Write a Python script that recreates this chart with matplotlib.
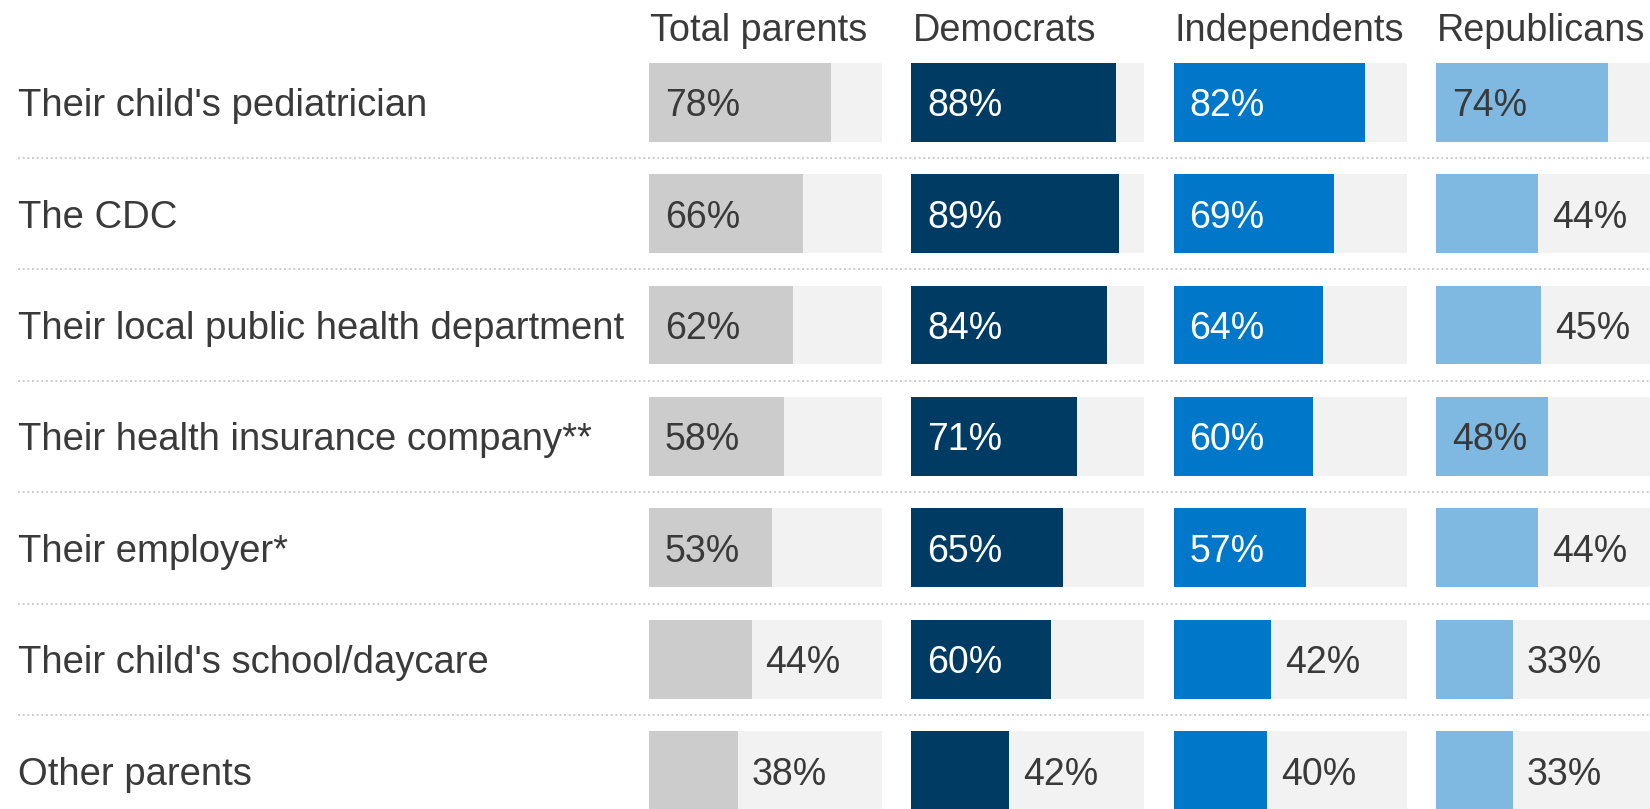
import matplotlib
matplotlib.use("Agg")
import matplotlib.pyplot as plt

plt.rcParams["font.family"] = ["Liberation Sans", "DejaVu Sans"]

sources = [
    "Their child's pediatrician",
    "The CDC",
    "Their local public health department",
    "Their health insurance company**",
    "Their employer*",
    "Their child's school/daycare",
    "Other parents",
]
groups = ["Total parents", "Democrats", "Independents", "Republicans"]
total = [78, 66, 62, 58, 53, 44, 38]
democrats = [88, 89, 84, 71, 65, 60, 42]
independents = [82, 69, 64, 60, 57, 42, 40]
republicans = [74, 44, 45, 48, 44, 33, 33]

series = [total, democrats, independents, republicans]
colors = ["#cccccc", "#003b63", "#0077c8", "#7fb8e1"]
text_colors = ["#3a3a3a", "white", "white", "#3a3a3a"]
track = "#f2f2f2"
ink = "#3a3a3a"

W, H = 1650, 809
fig = plt.figure(figsize=(W / 100, H / 100), dpi=100)

# vertical frame in pixels: first row centre and row pitch
row0, pitch = 102, 111.5
n = len(sources)
top_px = row0 - pitch / 2
bot_px = top_px + pitch * n
ax_bottom = 1 - bot_px / H
ax_height = (bot_px - top_px) / H

# background axes for row labels and dotted separators
bg = fig.add_axes([0, ax_bottom, 1, ax_height])
bg.set_xlim(0, 1)
bg.set_ylim(n - 0.5, -0.5)
bg.axis("off")
for i, name in enumerate(sources):
    bg.text(18 / W, i, name, fontsize=27.5, color=ink,
            va="center_baseline", ha="left")
for i in range(n - 1):
    bg.axhline(i + 0.5, xmin=18 / W, xmax=1, color="#cccccc", lw=1.4,
               linestyle=(0, (1, 1.4)))

panel_x0, panel_step, panel_w = 649, 262.3, 233
bar_h = 79 / pitch

for k, (label, vals) in enumerate(zip(groups, series)):
    x0 = panel_x0 + k * panel_step
    ax = fig.add_axes([x0 / W, ax_bottom, panel_w / W, ax_height])
    ax.set_xlim(0, 100)
    ax.set_ylim(n - 0.5, -0.5)
    ax.axis("off")
    rows = range(n)
    ax.barh(rows, [100] * n, height=bar_h, color=track, lw=0)
    ax.barh(rows, vals, height=bar_h, color=colors[k], lw=0)
    for i, v in enumerate(vals):
        if v >= 47:
            ax.text(6.8, i, f"{v}%", fontsize=27, color=text_colors[k],
                    va="center_baseline", ha="left")
        else:
            ax.text(v + 6, i, f"{v}%", fontsize=27, color=ink,
                    va="center_baseline", ha="left")
    ax.text(0.5, -0.67, label, fontsize=27.3, color=ink,
            va="center_baseline", ha="left", clip_on=False)

fig.savefig("out.png", dpi=100, facecolor="white")
